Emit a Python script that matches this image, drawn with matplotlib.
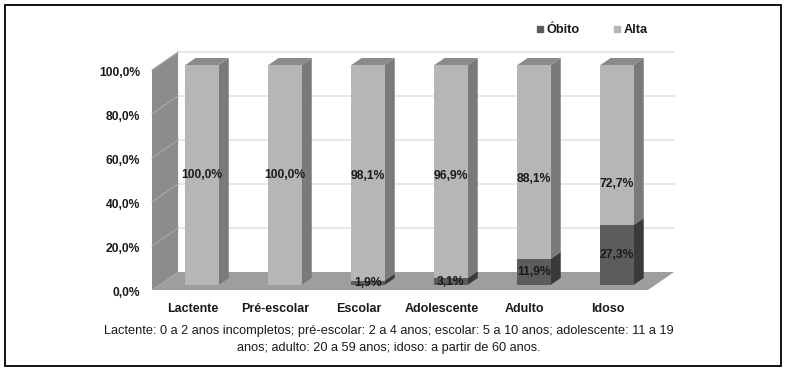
import matplotlib
matplotlib.use("Agg")
import matplotlib.pyplot as plt
from matplotlib.patches import Polygon, Rectangle
from matplotlib.lines import Line2D

# ---------------- data ----------------
categories = ["Lactente", "Pré-escolar", "Escolar", "Adolescente", "Adulto", "Idoso"]
obito = [0.0, 0.0, 1.9, 3.1, 11.9, 27.3]
alta = [100.0, 100.0, 98.1, 96.9, 88.1, 72.7]
obito_labels = ["", "", "1,9%", "3,1%", "11,9%", "27,3%"]
alta_labels = ["100,0%", "100,0%", "98,1%", "96,9%", "88,1%", "72,7%"]
yticks = [0, 20, 40, 60, 80, 100]
ytick_labels = ["0,0%", "20,0%", "40,0%", "60,0%", "80,0%", "100,0%"]
series_names = ["Óbito", "Alta"]
footnote = ("Lactente: 0 a 2 anos incompletos; pré-escolar: 2 a 4 anos; escolar: 5 a 10 anos; adolescente: 11 a 19\n"
            "anos; adulto: 20 a 59 anos; idoso: a partir de 60 anos.")

# ---------------- style ----------------
FONT = "Liberation Sans"
plt.rcParams["font.family"] = [FONT, "DejaVu Sans"]

C_ALTA_F, C_ALTA_S, C_ALTA_T = "#b6b6b6", "#7a7a7a", "#8a8a8a"
C_OB_F, C_OB_S, C_OB_T = "#5c5c5c", "#3a3a3a", "#4a4a4a"
C_WALL, C_FLOOR = "#8c8c8c", "#9e9e9e"
C_GRID, C_WALLGRID = "#e4e4e4", "#a9a9a9"

W, H = 786, 370
fig = plt.figure(figsize=(W / 100, H / 100), dpi=100)

# axes geometry in pixels
L, R, T, B = 140, 700, 40, 300
ax = fig.add_axes([L / W, (H - B) / H, (R - L) / W, (B - T) / H])
PX_X = 83.0     # pixels per category
PX_Y = 2.2      # pixels per percent
X0, Y0 = 202, 285   # pixel of category 0 centre / 0 % on bar front plane
ax.set_xlim((L - X0) / PX_X, (R - X0) / PX_X)
ax.set_ylim((Y0 - B) / PX_Y, (Y0 - T) / PX_Y)
ax.axis("off")

KX = 1.45  # x pixels per depth pixel


def P(x, v, z=0.0):
    """project (category x, value v, depth z [px, + = back]) into data coords"""
    return (x + KX * z / PX_X, v + z / PX_Y)


Z_WF, Z_WB = -5.0, 13.0   # wall/floor front & back
Z_BF, Z_BB = 0.0, 7.0     # bar front & back
n = len(categories)
x_wall = (152 - X0) / PX_X - KX * Z_WF / PX_X
x_floor_end = (648 - X0) / PX_X - KX * Z_WF / PX_X
vmax = yticks[-1]

# left wall
ax.add_patch(Polygon([P(x_wall, 0, Z_WF), P(x_wall, vmax, Z_WF), P(x_wall, vmax, Z_WB), P(x_wall, 0, Z_WB)],
                     closed=True, fc=C_WALL, ec="none", zorder=1))
# floor
ax.add_patch(Polygon([P(x_wall, 0, Z_WF), P(x_floor_end, 0, Z_WF), P(x_floor_end, 0, Z_WB), P(x_wall, 0, Z_WB)],
                     closed=True, fc=C_FLOOR, ec="none", zorder=1))
# gridlines
for t in yticks:
    if t > 0:
        xa, ya = P(x_wall, t, Z_WB)
        xb, yb = P(x_floor_end, t, Z_WB)
        ax.plot([xa, xb], [ya, yb], color=C_GRID, lw=1.2, zorder=0.5)
        xc, yc = P(x_wall, t, Z_WF)
        ax.plot([xc, xa], [yc, ya], color=C_WALLGRID, lw=0.8, zorder=1.2)

# bars
BW = 0.40
xs = list(range(n))
for i in xs:
    segs = [(0.0, obito[i], C_OB_S), (obito[i], obito[i] + alta[i], C_ALTA_S)]
    for (b, t, cs) in segs:
        if t - b <= 0:
            continue
        xr = i + BW / 2
        ax.add_patch(Polygon([P(xr, b, Z_BF), P(xr, t, Z_BF), P(xr, t, Z_BB), P(xr, b, Z_BB)],
                             closed=True, fc=cs, ec="none", zorder=3))
    top = obito[i] + alta[i]
    ax.add_patch(Polygon([P(i - BW / 2, top, Z_BF), P(i + BW / 2, top, Z_BF), P(i + BW / 2, top, Z_BB),
                          P(i - BW / 2, top, Z_BB)], closed=True, fc=C_ALTA_T, ec="none", zorder=3))

ax.bar(xs, obito, width=BW, color=C_OB_F, zorder=4)
ax.bar(xs, alta, bottom=obito, width=BW, color=C_ALTA_F, zorder=4)

# data labels
lab_kw = dict(ha="center", va="center", fontsize=8.7, fontweight="bold", color="#1a1a1a", zorder=6)
for i in xs:
    ax.text(i, alta[i] / 2 + obito[i] * 0.35, alta_labels[i], **lab_kw)
    if obito_labels[i]:
        ax.text(i, obito[i] / 2, obito_labels[i], **lab_kw)

# y tick labels (on wall front plane)
for t, s in zip(yticks, ytick_labels):
    xx, yy = P((140 - X0) / PX_X - KX * Z_WF / PX_X, t, Z_WF)
    ax.text(xx, yy - 1.3, s, ha="right", va="center", fontsize=8.7, fontweight="bold",
            color="#1a1a1a", clip_on=False)

# category labels
for i, c in enumerate(categories):
    xx, yy = P(i, 0, -6.5)
    ax.text(xx, yy - 8.0, c, ha="center", va="center", fontsize=9, fontweight="bold",
            color="#1a1a1a", clip_on=False)

# legend
handles = [Line2D([], [], ls="none", marker="s", markersize=4.5, color=C_OB_F),
           Line2D([], [], ls="none", marker="s", markersize=4.5, color=C_ALTA_F)]
leg = fig.legend(handles, series_names, loc="center", bbox_to_anchor=(592 / W, 1 - 30 / H), ncol=2,
                 frameon=False, handlelength=0.6, handletextpad=0.25, columnspacing=2.6,
                 prop={"family": FONT, "weight": "bold", "size": 9.2})
for txt in leg.get_texts():
    txt.set_color("#1a1a1a")

# footnote
fig.text(389 / W, 1 - 339.5 / H, footnote, ha="center", va="center", fontsize=9.2, color="#1a1a1a",
         linespacing=1.6)

# outer border
fig.patches.append(Rectangle((5 / W, 4 / H), 776 / W, 361 / H, transform=fig.transFigure,
                             fill=False, ec="black", lw=1.3))

fig.savefig("out.png", dpi=100, facecolor="white")
